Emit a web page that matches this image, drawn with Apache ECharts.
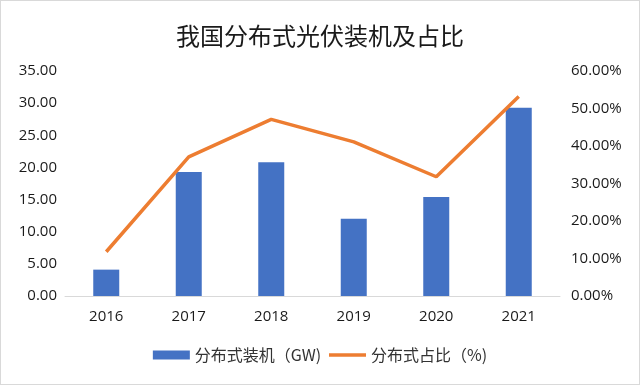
<!DOCTYPE html>
<html><head><meta charset="utf-8">
<script src="https://cdn.jsdelivr.net/npm/echarts@6/dist/echarts.min.js"></script>
<style>html,body{margin:0;padding:0;background:#fff}#c{width:638px;height:383px;border:1px solid #d9d9d9}</style>
</head><body><div id="c"></div>
<script>
const categories = ['2016','2017','2018','2019','2020','2021'];
const installed = [4.1, 19.3, 20.8, 12.0, 15.4, 29.3];
const share = [11.8, 37.1, 47.1, 41.1, 31.8, 53.2];
const chart = echarts.init(document.getElementById('c'));
const font = '"Noto Sans CJK SC", "Noto Sans", sans-serif';
const numFont = '"Open Sans", "Noto Sans", sans-serif';
chart.setOption({
  animation:false,
  textStyle:{fontFamily:font},
  title:{text:'我国分布式光伏装机及占比',left:'center',top:18,textStyle:{fontSize:24,fontWeight:'normal',color:'#1a1a1a',fontFamily:font}},
  legend:{bottom:16,left:'center',itemGap:6,itemWidth:37,itemHeight:9,textStyle:{fontSize:16,color:'#333',fontFamily:font},
    data:[{name:'分布式装机（GW)',icon:'rect'},{name:'分布式占比（%)',itemStyle:{opacity:0},lineStyle:{width:3.5,color:'#ed7d31'}}]},
  grid:{left:64,right:79,top:70,bottom:88,containLabel:false},
  xAxis:{type:'category',data:categories,axisTick:{show:false},axisLine:{lineStyle:{color:'#d9d9d9'}},
    axisLabel:{color:'#1a1a1a',fontSize:15,margin:13,fontFamily:numFont}},
  yAxis:[
    {type:'value',min:0,max:35,interval:5,splitLine:{show:false},axisLabel:{color:'#1a1a1a',fontSize:15,margin:8,fontFamily:numFont,formatter:v=>v.toFixed(2)}},
    {type:'value',min:0,max:60,interval:10,splitLine:{show:false},axisLabel:{color:'#1a1a1a',fontSize:15,margin:11,fontFamily:numFont,formatter:v=>v.toFixed(2)+'%'}}
  ],
  series:[
    {name:'分布式装机（GW)',type:'bar',data:installed,barWidth:26,itemStyle:{color:'#4472c4'}},
    {name:'分布式占比（%)',type:'line',yAxisIndex:1,data:share,symbol:'none',lineStyle:{color:'#ed7d31',width:3.5},itemStyle:{color:'#ed7d31'}}
  ]
});
</script></body></html>
